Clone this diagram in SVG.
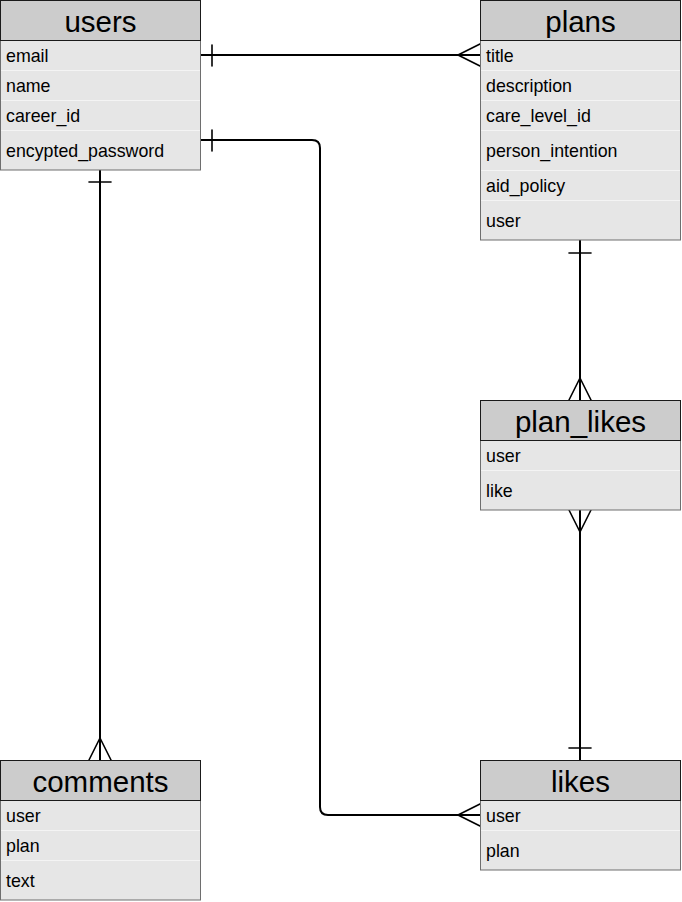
<svg xmlns="http://www.w3.org/2000/svg" width="682" height="902" viewBox="0 0 682 902">
<style>
  .hdr{fill:#cccccc;stroke:#1a1a1a;stroke-width:1}
  .body{fill:#e6e6e6;stroke:#6e6e6e;stroke-width:1}
  .sep{stroke:#f4f4f4;stroke-width:1}
  .title{font-family:"Liberation Sans",Helvetica,Arial,sans-serif;font-size:29.5px;fill:#000;text-anchor:middle}
  .row{font-family:"Liberation Sans",Helvetica,Arial,sans-serif;font-size:17.8px;fill:#000}
  .ln{fill:none;stroke:#000;stroke-width:2;stroke-linecap:round;stroke-linejoin:round}
  .mk{fill:none;stroke:#000;stroke-width:1.6;stroke-linecap:round;stroke-linejoin:round}
</style>
<rect width="682" height="902" fill="#ffffff"/>

<g id="connectors">
  <!-- users.email -> plans.title -->
  <path class="ln" d="M200,55 H480"/>
  <path class="mk" d="M212,45 V66"/>
  <path class="mk" d="M480,44 L458,55 L480,66"/>
  <!-- users.encypted_password -> likes.user -->
  <path class="ln" d="M200,140 H312 Q320,140 320,148 V807 Q320,815 328,815 H480"/>
  <path class="mk" d="M212,130 V151"/>
  <path class="mk" d="M480,804 L458,815 L480,826"/>
  <!-- users -> comments -->
  <path class="ln" d="M100,170 V760"/>
  <path class="mk" d="M89,182 H111"/>
  <path class="mk" d="M89,760 L100,738 L111,760"/>
  <!-- plans -> plan_likes -->
  <path class="ln" d="M580,240 V400"/>
  <path class="mk" d="M569,253 H591"/>
  <path class="mk" d="M569,400 L580,378 L591,400"/>
  <!-- plan_likes -> likes -->
  <path class="ln" d="M580,510 V760"/>
  <path class="mk" d="M569,510 L580,532 L591,510"/>
  <path class="mk" d="M569,748 H591"/>
</g>

<g id="users">
  <rect class="body" x="0.5" y="40.5" width="200" height="129.5"/>
  <line class="sep" x1="1" y1="70.5" x2="200" y2="70.5"/>
  <line class="sep" x1="1" y1="100.5" x2="200" y2="100.5"/>
  <line class="sep" x1="1" y1="130.5" x2="200" y2="130.5"/>
  <rect class="hdr" x="0.5" y="0.5" width="200" height="40"/>
  <text class="title" x="100.5" y="32">users</text>
  <text class="row" x="6" y="62">email</text>
  <text class="row" x="6" y="92">name</text>
  <text class="row" x="6" y="122">career_id</text>
  <text class="row" x="6" y="157">encypted_password</text>
</g>

<g id="plans">
  <rect class="body" x="480.5" y="40.5" width="200" height="199.5"/>
  <line class="sep" x1="481" y1="70.5" x2="680" y2="70.5"/>
  <line class="sep" x1="481" y1="100.5" x2="680" y2="100.5"/>
  <line class="sep" x1="481" y1="130.5" x2="680" y2="130.5"/>
  <line class="sep" x1="481" y1="170.5" x2="680" y2="170.5"/>
  <line class="sep" x1="481" y1="200.5" x2="680" y2="200.5"/>
  <rect class="hdr" x="480.5" y="0.5" width="200" height="40"/>
  <text class="title" x="580.5" y="32">plans</text>
  <text class="row" x="486" y="62">title</text>
  <text class="row" x="486" y="92">description</text>
  <text class="row" x="486" y="122">care_level_id</text>
  <text class="row" x="486" y="157">person_intention</text>
  <text class="row" x="486" y="192">aid_policy</text>
  <text class="row" x="486" y="227">user</text>
</g>

<g id="plan_likes">
  <rect class="body" x="480.5" y="440.5" width="200" height="69.5"/>
  <line class="sep" x1="481" y1="470.5" x2="680" y2="470.5"/>
  <rect class="hdr" x="480.5" y="400.5" width="200" height="40"/>
  <text class="title" x="580.5" y="432">plan_likes</text>
  <text class="row" x="486" y="462">user</text>
  <text class="row" x="486" y="497">like</text>
</g>

<g id="comments">
  <rect class="body" x="0.5" y="800.5" width="200" height="99.5"/>
  <line class="sep" x1="1" y1="830.5" x2="200" y2="830.5"/>
  <line class="sep" x1="1" y1="860.5" x2="200" y2="860.5"/>
  <rect class="hdr" x="0.5" y="760.5" width="200" height="40"/>
  <text class="title" x="100.5" y="792">comments</text>
  <text class="row" x="6" y="822">user</text>
  <text class="row" x="6" y="852">plan</text>
  <text class="row" x="6" y="887">text</text>
</g>

<g id="likes">
  <rect class="body" x="480.5" y="800.5" width="200" height="69.5"/>
  <line class="sep" x1="481" y1="830.5" x2="680" y2="830.5"/>
  <rect class="hdr" x="480.5" y="760.5" width="200" height="40"/>
  <text class="title" x="580.5" y="792">likes</text>
  <text class="row" x="486" y="822">user</text>
  <text class="row" x="486" y="857">plan</text>
</g>
</svg>
